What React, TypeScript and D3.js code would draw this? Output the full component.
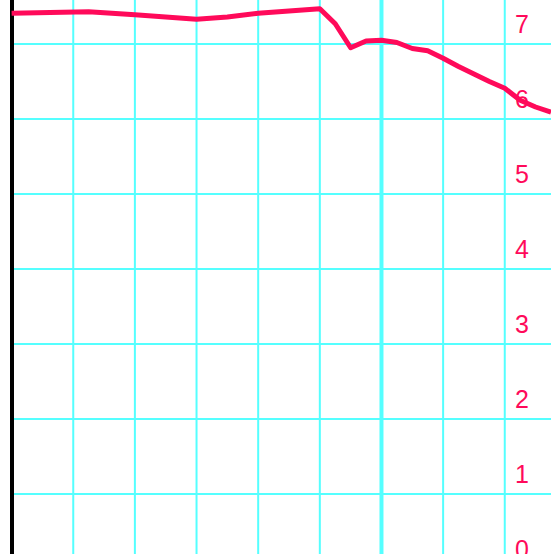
import { useEffect, useRef } from 'react';
import * as d3 from 'd3';

// Series: x in quarter-steps, y values
const xs = [0, 5, 8, 12, 14, 16, 18, 20, 21, 22, 23, 24, 25, 26, 27, 28, 29, 30, 31, 32, 33, 34, 35];
const ys = [7.41, 7.43, 7.39, 7.33, 7.36, 7.41, 7.44, 7.47, 7.27, 6.95, 7.04, 7.05, 7.02, 6.94, 6.91, 6.81, 6.7, 6.6, 6.5, 6.41, 6.25, 6.16, 6.09];

const yTicks = [0, 1, 2, 3, 4, 5, 6, 7];
const xGrid = [4, 8, 12, 16, 20, 24, 28, 32];
const markerX = 24;

const width = 551;
const height = 554;

export default function App() {
  const svgRef = useRef<SVGSVGElement>(null);

  useEffect(() => {
    if (!svgRef.current) return;
    const svg = d3.select(svgRef.current);
    svg.selectAll('*').remove();

    const xScale = d3.scaleLinear().domain([0, 35]).range([11.6, 551]);
    const yScale = d3.scaleLinear().domain([0, 7]).range([569, 44]);

    // grid
    svg.append('g')
      .selectAll('line')
      .data(xGrid)
      .join('line')
      .attr('x1', (d) => xScale(d))
      .attr('x2', (d) => xScale(d))
      .attr('y1', 0)
      .attr('y2', height)
      .attr('stroke', '#55ffff')
      .attr('stroke-width', (d) => (d === markerX ? 4 : 2));

    svg.append('g')
      .selectAll('line')
      .data(yTicks.filter((d) => d > 0))
      .join('line')
      .attr('x1', 12)
      .attr('x2', width)
      .attr('y1', (d) => yScale(d))
      .attr('y2', (d) => yScale(d))
      .attr('stroke', '#55ffff')
      .attr('stroke-width', 2);

    // left axis
    svg.append('line')
      .attr('x1', 12)
      .attr('x2', 12)
      .attr('y1', 0)
      .attr('y2', height)
      .attr('stroke', '#000')
      .attr('stroke-width', 4);

    // labels on the right (0 sits at the bottom edge, as in the source)
    svg.append('g')
      .selectAll('text')
      .data(yTicks)
      .join('text')
      .attr('x', 522)
      .attr('y', (d) => yScale(d) - 11)
      .attr('text-anchor', 'middle')
      .attr('font-family', 'Liberation Sans, Arial, sans-serif')
      .attr('font-size', 25)
      .attr('fill', '#ff0a5a')
      .text((d) => d);

    const line = d3.line<number>()
      .x((_, i) => xScale(xs[i]))
      .y((d) => yScale(d));

    svg.append('path')
      .attr('d', line(ys))
      .attr('fill', 'none')
      .attr('stroke', '#ff0a5a')
      .attr('stroke-width', 5)
      .attr('stroke-linejoin', 'round');
  }, []);

  return (
    <svg
      ref={svgRef}
      width={width}
      height={height}
      style={{ position: 'absolute', left: 0, top: 0, background: '#fff' }}
    />
  );
}
